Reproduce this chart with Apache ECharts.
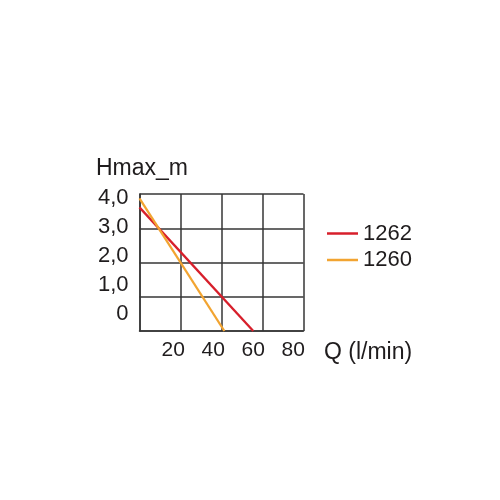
<!DOCTYPE html>
<html>
<head>
<meta charset="utf-8">
<script src="https://cdn.jsdelivr.net/npm/echarts@6/dist/echarts.min.js"></script>
<style>
  html, body { margin: 0; padding: 0; background: #ffffff; }
  #chart { width: 500px; height: 500px; }
</style>
</head>
<body>
<div id="chart"></div>
<script>
// ---- data (grid units: Q in l/min, H in m) ----
var seriesNames = ['1262', '1260'];
var red1262 = [[0, 3.61], [55.5, 0]];
var yellow1260 = [[0, 3.87], [41.4, 0]];
// tick labels as printed on the sheet
var xTickValues = [20, 40, 60, 80];
var xTickLabels = ['20', '40', '60', '80'];
var yTickValues = [0, 1, 2, 3, 4];
var yTickLabels = ['0', '1,0', '2,0', '3,0', '4,0'];
var yTitle = 'Hmax_m';
var xTitle = 'Q (l/min)';

var FONT = 'Liberation Sans, Arial, Helvetica, sans-serif';
var TXT = '#1f1c1d';
var GRID = '#363636';
var RED = '#d71f2b';
var YEL = '#f2a431';

var chart = echarts.init(document.getElementById('chart'), null, { renderer: 'canvas' });

chart.setOption({
  animation: false,
  backgroundColor: '#ffffff',
  textStyle: { fontFamily: FONT },
  title: [
    { text: yTitle, left: 96, top: 157, padding: 0,
      textStyle: { fontFamily: FONT, fontSize: 23, fontWeight: 'normal', color: TXT, lineHeight: 23 } },
    { text: xTitle, left: 324, top: 341, padding: 0,
      textStyle: { fontFamily: FONT, fontSize: 23, fontWeight: 'normal', color: TXT, lineHeight: 23 } }
  ],
  legend: [
    { data: [seriesNames[0]], left: 327, top: 217, padding: 0, orient: 'vertical',
      icon: 'rect', itemWidth: 31, itemHeight: 2.5,
      textStyle: { fontFamily: FONT, fontSize: 22, color: TXT, lineHeight: 22, padding: [0, 0, 11, 0] } },
    { data: [seriesNames[1]], left: 327, top: 243.5, padding: 0, orient: 'vertical',
      icon: 'rect', itemWidth: 31, itemHeight: 2.5,
      textStyle: { fontFamily: FONT, fontSize: 22, color: TXT, lineHeight: 22, padding: [0, 0, 11, 0] } }
  ],
  grid: { left: 139.5, right: 196.5, top: 194, bottom: 169, containLabel: false },
  xAxis: [
    { type: 'value', min: 0, max: 80, interval: 20,
      axisLine: { show: true, lineStyle: { color: GRID, width: 1.5 } },
      axisTick: { show: false }, axisLabel: { show: false },
      splitLine: { show: true, lineStyle: { color: GRID, width: 1.5 } } },
    { type: 'value', position: 'bottom', min: 3.1, max: 85.1,
      axisLine: { show: false }, axisTick: { show: false }, splitLine: { show: false },
      axisLabel: { show: true, customValues: xTickValues, margin: 9,
        fontFamily: FONT, fontSize: 21, color: TXT,
        formatter: function (v) { var i = xTickValues.indexOf(v); return i >= 0 ? xTickLabels[i] : ''; } } }
  ],
  yAxis: [
    { type: 'value', min: 0, max: 4, interval: 1,
      axisLine: { show: true, lineStyle: { color: GRID, width: 1.5 } },
      axisTick: { show: false }, axisLabel: { show: false },
      splitLine: { show: true, lineStyle: { color: GRID, width: 1.5 } } },
    { type: 'value', position: 'left', min: -0.6, max: 4.12,
      axisLine: { show: false }, axisTick: { show: false }, splitLine: { show: false },
      axisLabel: { show: true, customValues: yTickValues, margin: 11,
        fontFamily: FONT, fontSize: 22, color: TXT,
        formatter: function (v) { var i = yTickValues.indexOf(v); return i >= 0 ? yTickLabels[i] : ''; } } }
  ],
  series: [
    { name: seriesNames[0], type: 'line', xAxisIndex: 0, yAxisIndex: 0, data: red1262,
      showSymbol: false, symbol: 'none', lineStyle: { color: RED, width: 2.3 }, itemStyle: { color: RED } },
    { name: seriesNames[1], type: 'line', xAxisIndex: 0, yAxisIndex: 0, data: yellow1260,
      showSymbol: false, symbol: 'none', lineStyle: { color: YEL, width: 2.3 }, itemStyle: { color: YEL } }
  ]
});
</script>
</body>
</html>
